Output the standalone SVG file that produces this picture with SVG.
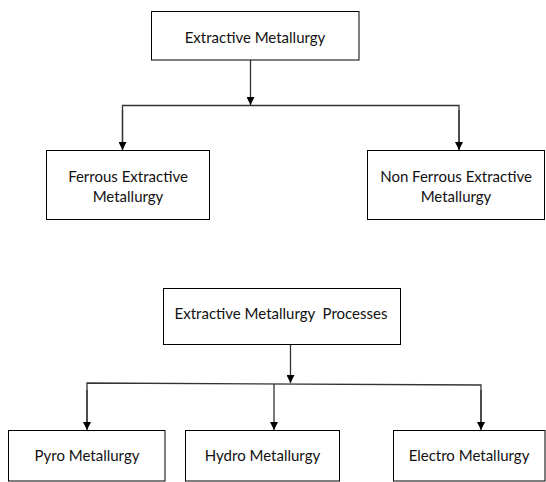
<svg xmlns="http://www.w3.org/2000/svg" width="546" height="482" viewBox="0 0 546 482">
<style>
.box{fill:#fff;stroke:#000;stroke-width:1}
.lbl{font-family:Lato,"Open Sans","Liberation Sans",sans-serif;font-size:15px;fill:#111;text-anchor:middle}
.con{fill:none;stroke:#333;stroke-width:1.3}
</style>
<defs>
<marker id="arr" viewBox="0 0 10 10" refX="10" refY="5" markerWidth="8" markerHeight="8" markerUnits="userSpaceOnUse" orient="auto">
<path d="M0,0 L10,5 L0,10 Z" fill="#000"/>
</marker>
</defs>
<g id="connectors">
<line class="con" x1="250.5" y1="60" x2="250.5" y2="105" marker-end="url(#arr)"/>
<polyline class="con" points="122.5,150 122.5,105.5 459,105.5 459,150"/>
<line class="con" x1="122.5" y1="110" x2="122.5" y2="150" marker-end="url(#arr)"/>
<line class="con" x1="459" y1="110" x2="459" y2="150" marker-end="url(#arr)"/>
<line class="con" x1="290.5" y1="344" x2="290.5" y2="383" marker-end="url(#arr)"/>
<polyline class="con" points="87,428 87,383 481,385 481,428"/>
<line class="con" x1="87" y1="390" x2="87" y2="430" marker-end="url(#arr)"/>
<line class="con" x1="274" y1="384" x2="274" y2="430" marker-end="url(#arr)"/>
<line class="con" x1="481" y1="390" x2="481" y2="430" marker-end="url(#arr)"/>
</g>
<g id="n1"><rect class="box" x="151.5" y="11.5" width="207.5" height="48.5"/><text class="lbl" x="255" y="43">Extractive Metallurgy</text></g>
<g id="n2"><rect class="box" x="46.5" y="150.5" width="163" height="69"/><text class="lbl" x="128" y="182">Ferrous Extractive</text><text class="lbl" x="128" y="202">Metallurgy</text></g>
<g id="n3"><rect class="box" x="367.5" y="150.5" width="177" height="69"/><text class="lbl" x="456" y="182">Non Ferrous Extractive</text><text class="lbl" x="456" y="202">Metallurgy</text></g>
<g id="n4"><rect class="box" x="163.5" y="288.5" width="237" height="56"/><text class="lbl" x="281" y="319" xml:space="preserve">Extractive Metallurgy  Processes</text></g>
<g id="n5"><rect class="box" x="8.5" y="430.5" width="156.5" height="50.5"/><text class="lbl" x="87" y="461">Pyro Metallurgy</text></g>
<g id="n6"><rect class="box" x="185.5" y="430.5" width="154" height="50.5"/><text class="lbl" x="262.5" y="461">Hydro Metallurgy</text></g>
<g id="n7"><rect class="box" x="393.5" y="430.5" width="151.5" height="50.5"/><text class="lbl" x="469" y="461">Electro Metallurgy</text></g>
</svg>
